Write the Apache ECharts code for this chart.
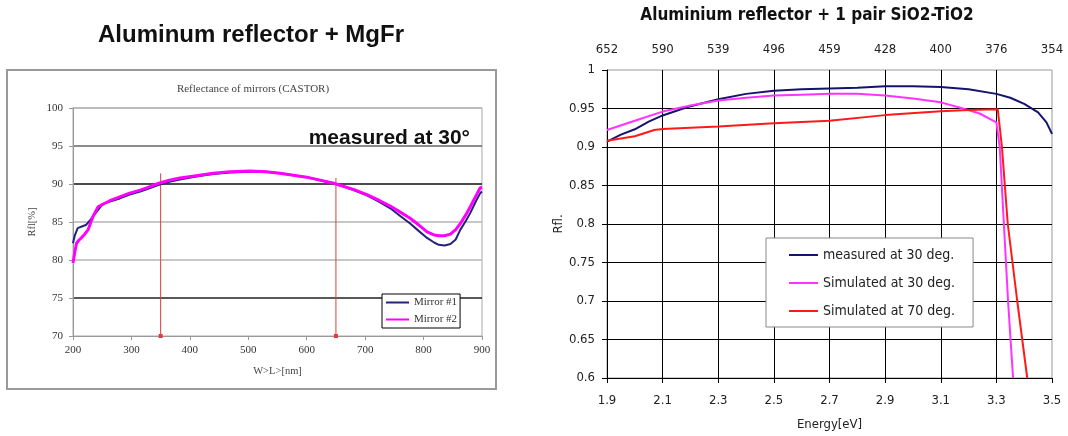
<!DOCTYPE html>
<html><head><meta charset="utf-8">
<script src="https://cdn.jsdelivr.net/npm/echarts@6/dist/echarts.min.js"></script>
<style>html,body{margin:0;padding:0;background:#fff}#c{width:1068px;height:436px}</style>
</head><body><div id="c"></div>
<script>
// ---- Left chart: Aluminum reflector + MgFr (wavelength [nm] vs reflectance [%]) ----
const mirrorWl1 = [200, 203, 208, 215, 222, 230, 240, 249, 256, 263, 280, 297, 315, 326, 347, 365, 383, 411, 440, 469, 503, 530, 554, 600, 646, 680, 703, 725, 743, 760, 777, 792, 806, 818, 826, 836, 846, 855, 863, 872, 880, 890, 897, 900];
const mirror1   = [82.2, 83.2, 84.2, 84.4, 84.6, 85.3, 86.3, 87.2, 87.5, 87.7, 88.1, 88.6, 89.0, 89.3, 89.9, 90.3, 90.6, 91.0, 91.3, 91.5, 91.6, 91.6, 91.4, 90.9, 90.1, 89.2, 88.5, 87.6, 86.8, 85.8, 84.8, 83.8, 82.9, 82.3, 82.0, 81.9, 82.1, 82.7, 84.0, 85.1, 86.2, 87.8, 88.8, 89.0];
const mirrorWl2 = [200, 203, 206, 210, 214, 220, 226, 234, 243, 250, 263, 280, 297, 315, 326, 347, 365, 383, 411, 440, 469, 503, 530, 554, 600, 646, 680, 703, 725, 743, 760, 777, 792, 806, 818, 826, 836, 846, 855, 863, 872, 880, 890, 897, 900];
const mirror2   = [79.6, 81.0, 82.2, 82.6, 82.9, 83.4, 84.0, 85.7, 87.0, 87.3, 87.8, 88.3, 88.8, 89.2, 89.5, 90.1, 90.5, 90.8, 91.1, 91.4, 91.6, 91.7, 91.6, 91.4, 90.9, 90.1, 89.3, 88.6, 87.8, 87.1, 86.3, 85.5, 84.6, 83.7, 83.3, 83.2, 83.2, 83.4, 84.0, 84.8, 85.9, 87.0, 88.5, 89.5, 89.6];
const markerWl  = [350, 650];
const markerTop = [91.4, 90.8];

// ---- Right chart: Aluminium reflector + 1 pair SiO2-TiO2 (energy [eV] vs reflectance) ----
const energyMeasured = [1.9, 1.95, 2.0, 2.05, 2.1, 2.19, 2.3, 2.4, 2.5, 2.6, 2.7, 2.8, 2.9, 3.0, 3.1, 3.2, 3.3, 3.35, 3.4, 3.45, 3.48, 3.5];
const measured30     = [0.907, 0.916, 0.923, 0.933, 0.941, 0.952, 0.962, 0.969, 0.973, 0.975, 0.976, 0.977, 0.979, 0.979, 0.978, 0.975, 0.969, 0.964, 0.956, 0.945, 0.932, 0.917];
const energySim30    = [1.9, 2.0, 2.1, 2.2, 2.3, 2.4, 2.5, 2.6, 2.7, 2.8, 2.9, 3.0, 3.1, 3.18, 3.24, 3.3, 3.312, 3.327, 3.342, 3.36];
const simulated30    = [0.922, 0.934, 0.946, 0.954, 0.9605, 0.964, 0.967, 0.968, 0.969, 0.969, 0.967, 0.963, 0.958, 0.95, 0.9435, 0.932, 0.9, 0.8, 0.7, 0.6];
const energySim70    = [1.9, 2.0, 2.07, 2.1, 2.3, 2.5, 2.7, 2.9, 3.1, 3.2, 3.305, 3.32, 3.341, 3.375, 3.411];
const simulated70    = [0.908, 0.914, 0.922, 0.9235, 0.9265, 0.931, 0.934, 0.9414, 0.9465, 0.948, 0.949, 0.9, 0.8, 0.7, 0.6];
const topWavelengthLabels = ['652', '590', '539', '496', '459', '428', '400', '376', '354'];

const pairs = (xs, ys) => xs.map((x, i) => [x, ys[i]]);
const SERIF = "'Liberation Serif', 'DejaVu Serif', serif";
const SANS = "'DejaVu Sans Condensed', 'DejaVu Sans', sans-serif";
const ARIAL = "'Liberation Sans', Arial, sans-serif";
const noSymbol = { color: 'rgba(0,0,0,0)', borderColor: 'rgba(0,0,0,0)', borderWidth: 0 };

const chart = echarts.init(document.getElementById('c'));

const markerSeries = markerWl.map((w, i) => ({
  name: 'marker' + i, type: 'line', xAxisIndex: 0, yAxisIndex: 0, silent: true,
  data: [{ value: [w, 70], symbol: 'rect', symbolSize: 4 }, { value: [w, markerTop[i]], symbol: 'none' }],
  lineStyle: { color: '#e23b3b', width: 1 }, itemStyle: { color: '#e23b3b' }, z: 2
}));

const option = {
  animation: false,
  backgroundColor: '#fff',
  graphic: [
    { type: 'rect', shape: { x: 7, y: 70, width: 489, height: 319 }, style: { fill: 'none', stroke: '#9a9a9a', lineWidth: 2 }, z: -1 },
    { type: 'text', x: 251, y: 35, style: { text: 'Aluminum reflector + MgFr', fontFamily: ARIAL, fontWeight: 'bold', fontSize: 24, fill: '#111', align: 'center', verticalAlign: 'middle' } },
    { type: 'text', x: 253, y: 89, style: { text: 'Reflectance of mirrors (CASTOR)', fontFamily: SERIF, fontSize: 11, fill: '#444', align: 'center', verticalAlign: 'middle' } },
    { type: 'text', x: 470, y: 138, z: 10, style: { text: 'measured at 30°', fontFamily: ARIAL, fontWeight: 'bold', fontSize: 21, fill: '#111', align: 'right', verticalAlign: 'middle' } },
    { type: 'text', x: 807, y: 16, style: { text: 'Aluminium reflector + 1 pair SiO2-TiO2', fontFamily: SANS, fontWeight: 'bold', fontSize: 17, fill: '#111', align: 'center', verticalAlign: 'middle' } }
  ],
  legend: [
    { data: ['Mirror #1', 'Mirror #2'], orient: 'vertical', left: 382, top: 294, padding: [3, 3, 3, 3],
      itemWidth: 23, itemHeight: 10, itemGap: 6, borderColor: '#000', borderWidth: 1, backgroundColor: '#fff',
      itemStyle: noSymbol,
      textStyle: { fontFamily: SERIF, fontSize: 11, color: '#333' } },
    { data: ['measured at 30 deg.', 'Simulated at 30 deg.', 'Simulated at 70 deg.'], orient: 'vertical', left: 766, top: 238,
      padding: [10, 18, 9, 22], itemWidth: 29, itemHeight: 14, itemGap: 14, borderColor: '#888', borderWidth: 1, backgroundColor: '#fff',
      itemStyle: noSymbol,
      textStyle: { fontFamily: SANS, fontSize: 14, color: '#222' } }
  ],
  grid: [
    { left: 73, top: 108, width: 409, height: 228, show: true, borderColor: '#aaa', borderWidth: 1, backgroundColor: 'transparent' },
    { left: 607, top: 70, width: 445, height: 308, show: true, borderColor: '#999', borderWidth: 1, backgroundColor: 'transparent' }
  ],
  xAxis: [
    { gridIndex: 0, type: 'value', min: 200, max: 900, interval: 100,
      axisLine: { show: true, lineStyle: { color: '#999' } }, axisTick: { show: true, length: 4, lineStyle: { color: '#999' } },
      axisLabel: { fontFamily: SERIF, fontSize: 11, color: '#333', margin: 9 }, splitLine: { show: false },
      name: 'W>L>[nm]', nameLocation: 'middle', nameGap: 30, nameTextStyle: { fontFamily: SERIF, fontSize: 10.5, color: '#444' } },
    { gridIndex: 1, type: 'value', min: 1.9, max: 3.5, interval: 0.2, position: 'bottom',
      axisLine: { show: true, lineStyle: { color: '#000' } }, axisTick: { show: true, length: 5, lineStyle: { color: '#000' } },
      axisLabel: { fontFamily: SANS, fontSize: 13, color: '#222', margin: 16, formatter: v => v.toFixed(1) },
      splitLine: { show: true, showMinLine: false, showMaxLine: false, lineStyle: { color: '#000', width: 1 } },
      name: 'Energy[eV]', nameLocation: 'middle', nameGap: 40, nameTextStyle: { fontFamily: SANS, fontSize: 13, color: '#222' } },
    { gridIndex: 1, type: 'value', min: 1.9, max: 3.5, interval: 0.2, position: 'top',
      axisLine: { show: false }, axisTick: { show: false }, splitLine: { show: false },
      axisLabel: { fontFamily: SANS, fontSize: 13, color: '#222', margin: 14,
        formatter: v => topWavelengthLabels[Math.round((v - 1.9) / 0.2)] } }
  ],
  yAxis: [
    { gridIndex: 0, type: 'value', min: 70, max: 100, interval: 5,
      axisLine: { show: true, lineStyle: { color: '#999' } }, axisTick: { show: true, length: 4, lineStyle: { color: '#999' } },
      axisLabel: { fontFamily: SERIF, fontSize: 11, color: '#333', margin: 10 },
      splitLine: { show: true, showMinLine: false, lineStyle: { color: ['#222', '#b5b5b5', '#b5b5b5', '#111', '#666', '#b5b5b5'], width: 1.5 } },
      name: 'Rfl[%]', nameLocation: 'middle', nameGap: 35, nameTextStyle: { fontFamily: SERIF, fontSize: 10.5, color: '#444' } },
    { gridIndex: 1, type: 'value', min: 0.6, max: 1, interval: 0.05,
      axisLine: { show: true, lineStyle: { color: '#000' } }, axisTick: { show: true, length: 5, lineStyle: { color: '#000' } },
      axisLabel: { fontFamily: SANS, fontSize: 13, color: '#222', margin: 12 },
      splitLine: { show: true, showMinLine: false, showMaxLine: false, lineStyle: { color: '#000', width: 1 } },
      name: 'Rfl.', nameLocation: 'middle', nameGap: 42, nameTextStyle: { fontFamily: SANS, fontSize: 13, color: '#222' } }
  ],
  series: [
    { name: 'Mirror #1', type: 'line', xAxisIndex: 0, yAxisIndex: 0, data: pairs(mirrorWl1, mirror1), symbol: 'none',
      lineStyle: { color: '#22227a', width: 2 }, itemStyle: { color: '#22227a' }, z: 3 },
    { name: 'Mirror #2', type: 'line', xAxisIndex: 0, yAxisIndex: 0, data: pairs(mirrorWl2, mirror2), symbol: 'none',
      lineStyle: { color: '#ff00ff', width: 3 }, itemStyle: { color: '#ff00ff' }, z: 4 },
    ...markerSeries,
    { name: 'measured at 30 deg.', type: 'line', xAxisIndex: 1, yAxisIndex: 1, data: pairs(energyMeasured, measured30), symbol: 'none',
      lineStyle: { color: '#14146e', width: 2 }, itemStyle: { color: '#14146e' }, z: 3 },
    { name: 'Simulated at 30 deg.', type: 'line', xAxisIndex: 1, yAxisIndex: 1, data: pairs(energySim30, simulated30), symbol: 'none',
      lineStyle: { color: '#ff33ff', width: 2 }, itemStyle: { color: '#ff33ff' }, z: 4 },
    { name: 'Simulated at 70 deg.', type: 'line', xAxisIndex: 1, yAxisIndex: 1, data: pairs(energySim70, simulated70), symbol: 'none',
      lineStyle: { color: '#ff1a1a', width: 2 }, itemStyle: { color: '#ff1a1a' }, z: 5 }
  ]
};
chart.setOption(option);
</script>
</body></html>
